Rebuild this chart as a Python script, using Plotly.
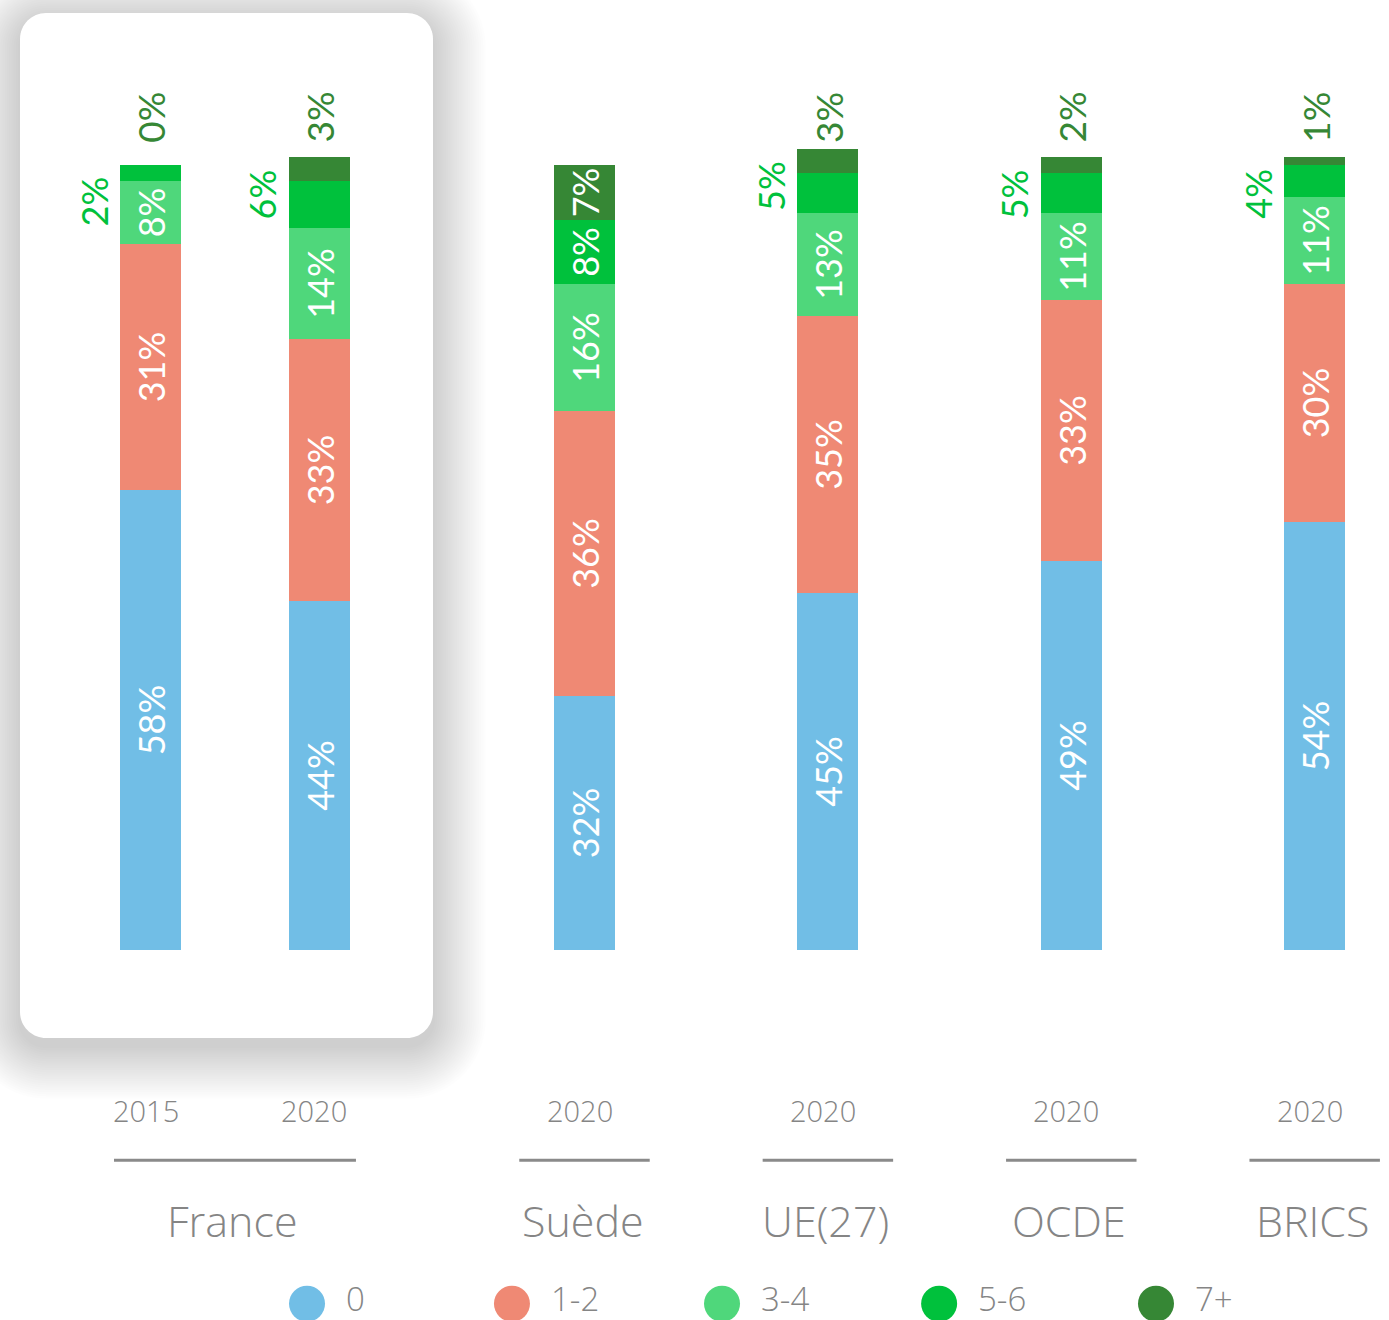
import plotly.graph_objects as go

# ---- data -------------------------------------------------------------
groups = ["France", "France", "Suède", "UE(27)", "OCDE", "BRICS"]
years = ["2015", "2020", "2020", "2020", "2020", "2020"]
bands = ["0", "1-2", "3-4", "5-6", "7+"]

share_0 = [58, 44, 32, 45, 49, 54]
share_1_2 = [31, 33, 36, 35, 33, 30]
share_3_4 = [8, 14, 16, 13, 11, 11]
share_5_6 = [2, 6, 8, 5, 5, 4]
share_7_plus = [0, 3, 7, 3, 2, 1]

series = [share_0, share_1_2, share_3_4, share_5_6, share_7_plus]
band_colors = ["#71bee6", "#ef8974", "#4fd77b", "#00c13c", "#368735"]

# ---- layout constants -------------------------------------------------
W, H = 1389, 1320
FONT = "Lato"
LABEL_FONT = "Open Sans"
GREY = "#858585"
bar_x = [0.217, 0.911, 2.0, 3.0, 4.0, 5.0]          # slot positions on the x axis
legend_x = [0.860, 1.702, 2.565, 3.457, 4.348]      # legend dot positions
BAR_W = 0.25
X_RANGE = [-0.4014, 5.3053]
Y_RANGE = [-46.66, 119.8]
INSIDE_MIN = 7   # smaller segments get their label outside the bar

fig = go.Figure()

# stacked bars, one trace per band
for name, vals, col in zip(bands, series, band_colors):
    fig.add_trace(go.Bar(
        x=bar_x, y=vals, width=BAR_W, name=name,
        marker=dict(color=col, line=dict(width=0)),
        text=[f"{v}%" if v >= INSIDE_MIN else "" for v in vals],
        textposition="inside", insidetextanchor="middle",
        textangle=-90, constraintext="none",
        textfont=dict(family=FONT, size=36, color="white"),
        hoverinfo="skip", showlegend=False,
    ))

annotations = []
totals = [sum(s[i] for s in series) for i in range(len(bar_x))]

# small segments labelled outside: 5-6 to the left, 7+ above the bar
for i, x in enumerate(bar_x):
    v56 = share_5_6[i]
    if v56 < INSIDE_MIN:
        annotations.append(dict(
            x=x, y=totals[i], xref="x", yref="y", text=f"{v56}%",
            showarrow=False, textangle=-90, xanchor="center", yanchor="top",
            xshift=-57, yshift=-10,
            font=dict(family=FONT, size=36, color=band_colors[3]),
        ))
    v7 = share_7_plus[i]
    if v7 < INSIDE_MIN:
        annotations.append(dict(
            x=x, y=108.5, xref="x", yref="y", text=f"{v7}%",
            showarrow=False, textangle=-90, xanchor="center", yanchor="top",
            font=dict(family=FONT, size=37, color=band_colors[4]),
        ))

# year labels under each bar
for x, yr in zip(bar_x, years):
    annotations.append(dict(
        x=x, y=-20.3, xref="x", yref="y", text=yr, showarrow=False,
        xshift=-5, font=dict(family=LABEL_FONT, size=29, color=GREY, weight=300),
    ))

shapes = []

# group underline and group name
seen = []
for g in groups:
    if g not in seen:
        seen.append(g)
for g in seen:
    xs = [x for x, gg in zip(bar_x, groups) if gg == g]
    mid = (min(xs) + max(xs)) / 2
    half = max((max(xs) - min(xs) + 0.3) / 2, 0.268)
    shapes.append(dict(
        type="line", xref="x", yref="y", x0=mid - half, x1=mid + half,
        y0=-26.5, y1=-26.5, line=dict(color="#8a8a8a", width=3),
    ))
    annotations.append(dict(
        x=mid, y=-34.05, xref="x", yref="y", text=g, showarrow=False,
        xshift=-2, font=dict(family=LABEL_FONT, size=43, color=GREY, weight=300),
    ))

# legend drawn as large dots with labels
fig.add_trace(go.Scatter(
    x=legend_x, y=[-44.6] * len(bands), mode="markers",
    marker=dict(size=36, color=band_colors, line=dict(width=0)),
    hoverinfo="skip", showlegend=False,
))
for x, name in zip(legend_x, bands):
    annotations.append(dict(
        x=x, y=-44.6, xref="x", yref="y", text=name, showarrow=False,
        xanchor="left", xshift=37, yshift=5,
        font=dict(family=LABEL_FONT, size=33, color=GREY, weight=300),
    ))


# rounded card with soft shadow behind the France group
def rounded_path(x0, y0, x1, y1, r):
    k = 0.5523 * r

    def p(px, py):
        return f"{px / W:.5f},{1 - py / H:.5f}"

    return (
        f"M {p(x0 + r, y0)} L {p(x1 - r, y0)} "
        f"C {p(x1 - r + k, y0)} {p(x1, y0 + r - k)} {p(x1, y0 + r)} "
        f"L {p(x1, y1 - r)} "
        f"C {p(x1, y1 - r + k)} {p(x1 - r + k, y1)} {p(x1 - r, y1)} "
        f"L {p(x0 + r, y1)} "
        f"C {p(x0 + r - k, y1)} {p(x0, y1 - r + k)} {p(x0, y1 - r)} "
        f"L {p(x0, y0 + r)} "
        f"C {p(x0, y0 + r - k)} {p(x0 + r - k, y0)} {p(x0 + r, y0)} Z"
    )


card = (20, 13, 433, 1038)
for i in range(24, 0, -1):
    e = i * 2.2
    shapes.append(dict(
        type="path", xref="paper", yref="paper", layer="below",
        path=rounded_path(card[0] - e, card[1] - e + 8, card[2] + e,
                          card[3] + e + 8, 26 + e),
        fillcolor="rgba(0,0,0,0.006)", line=dict(width=0),
    ))
shapes.append(dict(
    type="path", xref="paper", yref="paper", layer="below",
    path=rounded_path(*card, 26),
    fillcolor="white", line=dict(width=0),
))

fig.update_layout(
    width=W, height=H, barmode="stack", bargap=0,
    margin=dict(l=0, r=0, t=0, b=0),
    paper_bgcolor="white", plot_bgcolor="rgba(0,0,0,0)",
    xaxis=dict(range=X_RANGE, visible=False, fixedrange=True),
    yaxis=dict(range=Y_RANGE, visible=False, fixedrange=True),
    annotations=annotations, shapes=shapes,
    showlegend=False,
)

fig.write_html("out.html", config={"displayModeBar": False})
